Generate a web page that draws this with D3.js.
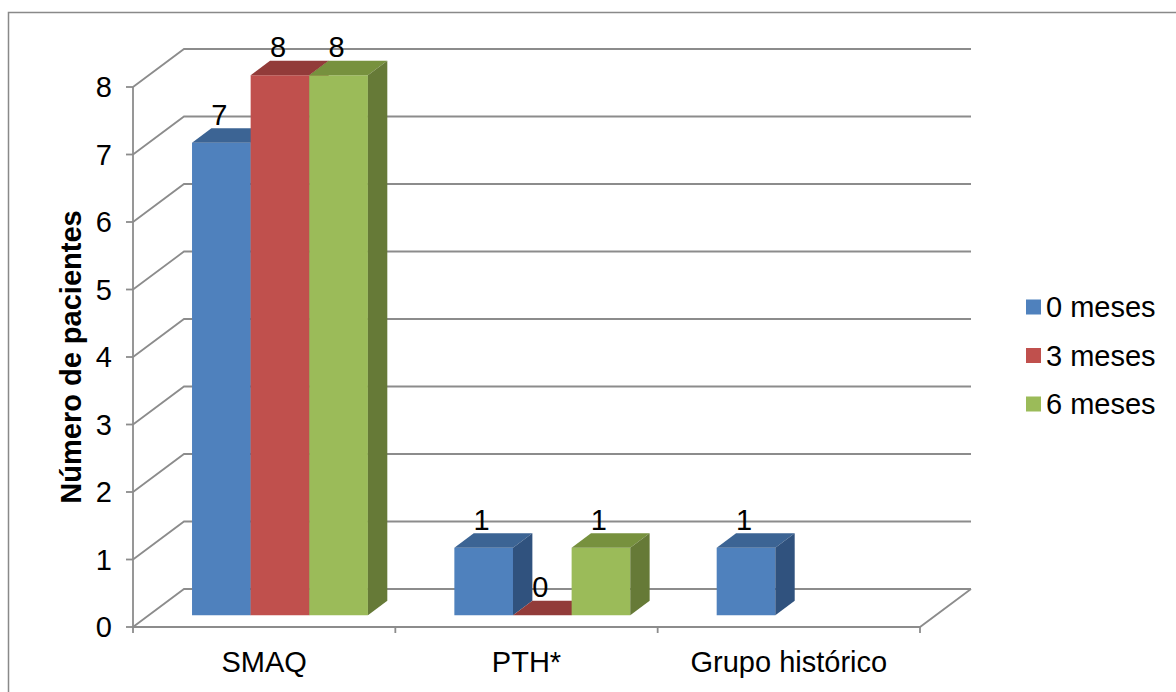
<!DOCTYPE html>
<html>
<head>
<meta charset="utf-8">
<script src="https://cdn.jsdelivr.net/npm/d3@7"></script>
<style>
  html, body { margin: 0; padding: 0; background: #fff; }
  svg { display: block; }
  text { font-family: "Liberation Sans", Arial, sans-serif; fill: #000; }
</style>
</head>
<body>
<svg id="chart" width="1176" height="692"></svg>
<script>
// Patients per group at each visit
const categories = ["SMAQ", "PTH*", "Grupo histórico"];
const seriesNames = ["0 meses", "3 meses", "6 meses"];
const meses0 = [7, 1, 1];
const meses3 = [8, 0, null];
const meses6 = [8, 1, null];
const yTicks = [0, 1, 2, 3, 4, 5, 6, 7, 8];
const yTitle = "Número de pacientes";

const seriesValues = [meses0, meses3, meses6];
const palette = [
  { front: "#4F81BD", top: "#3C6494", side: "#30527E" },
  { front: "#C0504D", top: "#923B39", side: "#883634" },
  { front: "#9BBB59", top: "#77913E", side: "#667A37" }
];

const svg = d3.select("#chart");
const gridColor = "#8C8C8C";
const fontSize = 29;

// Oblique 3D projection: front plane plus a depth vector
const depth = { dx: 51, dy: -38 };
const barDepth = { from: 0.31, to: 0.69 };

const y = d3.scaleLinear().domain([0, 8]).range([627, 87]);
const x = d3.scaleBand().domain(categories).range([133, 920]).paddingInner(0).paddingOuter(0);
const xs = d3.scaleBand().domain(seriesNames).range([0, x.bandwidth()])
  .paddingInner(0).paddingOuter(0.737);

const proj = (px, v, f) => [px + f * depth.dx, y(v) + f * depth.dy];
const poly = pts => pts.map(p => p.join(",")).join(" ");

// Outer frame
svg.append("rect")
  .attr("x", 8.5).attr("y", 12.5).attr("width", 1200).attr("height", 700)
  .attr("fill", "none").attr("stroke", "#898989").attr("stroke-width", 1.5);

const grid = svg.append("g")
  .attr("fill", "none").attr("stroke", gridColor).attr("stroke-width", 1.8);

// Gridlines: diagonal on the side wall, then across the back wall
const x0 = x.range()[0], x1 = x.range()[1];
yTicks.forEach(v => {
  grid.append("polyline").attr("points", poly([proj(x0, v, 0), proj(x0, v, 1), proj(x1, v, 1)]));
});

// Floor front edge and right edge
grid.append("polyline").attr("points", poly([proj(x0, 0, 0), proj(x1, 0, 0), proj(x1, 0, 1)]));

// Value axis line and ticks
grid.append("line").attr("x1", x0).attr("x2", x0).attr("y1", y(8)).attr("y2", y(0) + 6);
yTicks.forEach(v => {
  grid.append("line").attr("x1", x0 - 7).attr("x2", x0).attr("y1", y(v)).attr("y2", y(v));
});
// Category boundary ticks
categories.forEach(c => {
  const px = x(c) + x.bandwidth();
  grid.append("line").attr("x1", px).attr("x2", px).attr("y1", y(0)).attr("y2", y(0) + 6);
});

// Y tick labels
svg.append("g").selectAll("text").data(yTicks).join("text")
  .attr("x", 112).attr("y", d => y(d)).attr("dy", "0.36em")
  .attr("text-anchor", "end").attr("font-size", fontSize)
  .text(d => d);

// Category labels
svg.append("g").selectAll("text").data(categories).join("text")
  .attr("x", d => x(d) + x.bandwidth() / 2).attr("y", 672)
  .attr("text-anchor", "middle").attr("font-size", fontSize)
  .text(d => d);

// Y axis title
svg.append("text")
  .attr("transform", `translate(81,${(y(0) + y(8)) / 2}) rotate(-90)`)
  .attr("text-anchor", "middle").attr("font-size", fontSize).attr("font-weight", "bold")
  .text(yTitle);

// Bars
const bars = [];
categories.forEach((cat, ci) => {
  seriesNames.forEach((s, si) => {
    const v = seriesValues[si][ci];
    if (v === null || v === undefined) return;
    bars.push({ cat, s, si, v });
  });
});

const barG = svg.append("g");
bars.forEach(b => {
  const left = x(b.cat) + xs(b.s);
  const right = left + xs.bandwidth();
  const f0 = barDepth.from, f1 = barDepth.to;
  const col = palette[b.si];
  const fl0 = proj(left, 0, f0), fr0 = proj(right, 0, f0);
  const flv = proj(left, b.v, f0), frv = proj(right, b.v, f0);
  const blv = proj(left, b.v, f1), brv = proj(right, b.v, f1), br0 = proj(right, 0, f1);
  // front, top, right side
  barG.append("polygon").attr("points", poly([fl0, fr0, frv, flv])).attr("fill", col.front);
  barG.append("polygon").attr("points", poly([flv, frv, brv, blv])).attr("fill", col.top);
  barG.append("polygon").attr("points", poly([fr0, frv, brv, br0])).attr("fill", col.side);
  b.labelX = (flv[0] + frv[0]) / 2 - 2;
  b.labelY = flv[1] - 18;
});

// Data labels
svg.append("g").selectAll("text").data(bars).join("text")
  .attr("x", d => d.labelX).attr("y", d => d.labelY)
  .attr("text-anchor", "middle").attr("font-size", fontSize)
  .text(d => d.v);

// Legend
const legend = svg.append("g").attr("transform", "translate(1026,307)");
seriesNames.forEach((s, i) => {
  const g = legend.append("g").attr("transform", `translate(0,${i * 48.5})`);
  g.append("rect").attr("x", 0).attr("y", -7.5).attr("width", 15).attr("height", 15)
    .attr("fill", palette[i].front);
  g.append("text").attr("x", 20).attr("y", 0).attr("dy", "0.36em")
    .attr("font-size", fontSize).text(s);
});
</script>
</body>
</html>
